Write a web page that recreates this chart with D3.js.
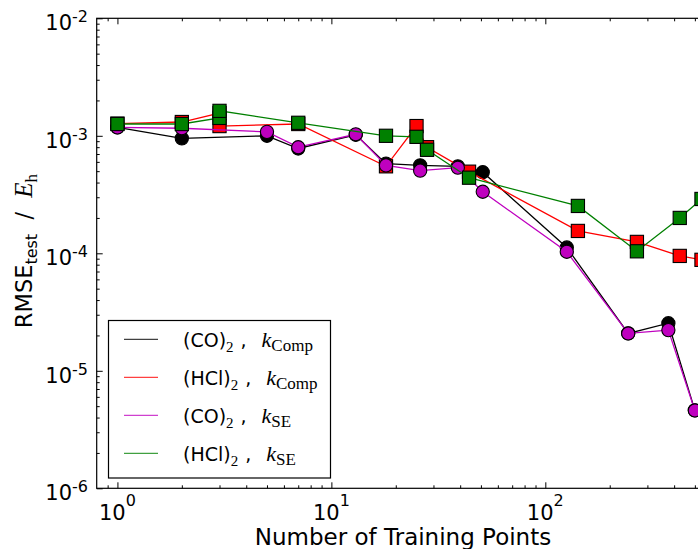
<!DOCTYPE html>
<html>
<head>
<meta charset="utf-8">
<script src="https://cdn.jsdelivr.net/npm/d3@7"></script>
<style>
body { margin: 0; background: #fff; }
svg { display: block; }
text { white-space: pre; }
</style>
</head>
<body>
<svg id="chart"></svg>
<script>
// training set size vs test RMSE (hartree), one pair of arrays per series
const coCompX = [1, 2, 5, 7, 13, 18, 26, 39, 51, 126, 244, 376, 500];
const coCompY = [1.18e-3, 9.5e-4, 1.0e-3, 7.8e-4, 1.02e-3, 5.8e-4, 5.6e-4, 5.5e-4, 4.9e-4, 1.12e-4, 2.08e-5, 2.54e-5, 4.6e-6];
const hclCompX = [1, 2, 3, 3, 7, 18, 25, 28, 44, 142, 268, 425, 537];
const hclCompY = [1.27e-3, 1.31e-3, 1.56e-3, 1.21e-3, 1.26e-3, 5.5e-4, 1.21e-3, 8.0e-4, 4.95e-4, 1.55e-4, 1.25e-4, 9.5e-5, 8.8e-5];
const coSEX = [1, 2, 5, 7, 13, 18, 26, 39, 51, 126, 244, 376, 500];
const coSEY = [1.18e-3, 1.16e-3, 1.08e-3, 8.0e-4, 1.03e-3, 5.6e-4, 5.05e-4, 5.35e-4, 3.34e-4, 1.03e-4, 2.08e-5, 2.22e-5, 4.6e-6];
const hclSEX = [1, 2, 3, 3, 7, 18, 25, 28, 44, 142, 268, 425, 537];
const hclSEY = [1.26e-3, 1.26e-3, 1.42e-3, 1.63e-3, 1.29e-3, 1.0e-3, 9.8e-4, 7.6e-4, 4.4e-4, 2.53e-4, 1.04e-4, 2.0e-4, 2.9e-4];

const molecules = ["(CO)", "(HCl)", "(CO)", "(HCl)"];
const kernels = ["Comp", "Comp", "SE", "SE"];
const colors = ["#000000", "#ff0000", "#bf00bf", "#008000"];
const markers = ["circle", "square", "circle", "square"];

const xTickVals = [1, 10, 100];
const xTickExp = ["0", "1", "2"];
const yTickVals = [1e-6, 1e-5, 1e-4, 1e-3, 1e-2];
const yTickExp = ["-6", "-5", "-4", "-3", "-2"];

const xLabel = "Number of Training Points";

const width = 698, height = 549;
const sans = "'DejaVu Sans', sans-serif";
const serif = "'Liberation Serif', 'DejaVu Serif', serif";

const svg = d3.select('svg#chart')
    .attr('width', width)
    .attr('height', height);

const x = d3.scaleLog().domain([0.8, 600]).range([96.7, 711.8]);
const y = d3.scaleLog().domain([1e-6, 1e-2]).range([488.3, 18.3]);

// minor ticks: 2..9 in each decade
let xMinor = [];
let yMinor = [];
[0.1, 1, 10, 100].forEach(d => { for (let k = 2; k < 10; k++) { let v = d * k; if (v > 0.8 && v < 600) xMinor.push(v); } });
[1e-6, 1e-5, 1e-4, 1e-3].forEach(d => { for (let k = 2; k < 10; k++) yMinor.push(d * k); });

function tickAxis(axis, vals, size) {
    return axis.tickValues(vals).tickSize(size).tickSizeOuter(0).tickFormat("");
}

const gAx = svg.append('g');
gAx.append('g').attr('transform', `translate(0,${y.range()[0]})`).call(tickAxis(d3.axisBottom(x), xTickVals, -6));
gAx.append('g').attr('transform', `translate(0,${y.range()[0]})`).call(tickAxis(d3.axisBottom(x), xMinor, -3));
gAx.append('g').attr('transform', `translate(0,${y.range()[1]})`).call(tickAxis(d3.axisTop(x), xTickVals, -6));
gAx.append('g').attr('transform', `translate(0,${y.range()[1]})`).call(tickAxis(d3.axisTop(x), xMinor, -3));
gAx.append('g').attr('transform', `translate(${x.range()[0]},0)`).call(tickAxis(d3.axisLeft(y), yTickVals, -6));
gAx.append('g').attr('transform', `translate(${x.range()[0]},0)`).call(tickAxis(d3.axisLeft(y), yMinor, -3));
gAx.selectAll('.domain').remove();
gAx.selectAll('line').attr('stroke', '#000').attr('stroke-width', 1);

// frame
svg.append('rect')
    .attr('x', x.range()[0]).attr('y', y.range()[1])
    .attr('width', x.range()[1] - x.range()[0])
    .attr('height', y.range()[0] - y.range()[1])
    .attr('fill', 'none').attr('stroke', '#000').attr('stroke-width', 1.2);

// tick labels as 10^n
xTickVals.forEach((v, i) => {
    let t = svg.append('text')
        .attr('x', x(v)).attr('y', y.range()[0] + 31.7)
        .attr('text-anchor', 'middle')
        .attr('font-family', sans).attr('font-size', 21);
    t.append('tspan').text("10");
    t.append('tspan').attr('dy', -14).attr('font-size', 16).text(xTickExp[i]);
});
yTickVals.forEach((v, i) => {
    let t = svg.append('text')
        .attr('x', 88).attr('y', y(v) + 12)
        .attr('text-anchor', 'end')
        .attr('font-family', sans).attr('font-size', 21);
    t.append('tspan').text("10");
    t.append('tspan').attr('dy', -8).attr('font-size', 16).text(yTickExp[i]);
});

// axis titles
svg.append('text')
    .attr('x', 403).attr('y', 545)
    .attr('text-anchor', 'middle')
    .attr('font-family', sans).attr('font-size', 23)
    .text(xLabel);

let yl = svg.append('text')
    .attr('transform', 'translate(32,251) rotate(-90)')
    .attr('text-anchor', 'middle')
    .attr('font-family', sans).attr('font-size', 22.5);
yl.append('tspan').text("RMSE");
yl.append('tspan').attr('dy', 5).attr('font-size', 16).text("test");
yl.append('tspan').attr('dy', -5).text("  /  ");
yl.append('tspan').attr('font-family', serif).attr('font-style', 'italic').attr('font-size', 25).text("E");
yl.append('tspan').attr('dy', 5).attr('font-family', serif).attr('font-size', 17).text("h");

// series
const seriesX = [coCompX, hclCompX, coSEX, hclSEX];
const seriesY = [coCompY, hclCompY, coSEY, hclSEY];

const line = d3.line().x(d => x(d[0])).y(d => y(d[1]));

seriesX.forEach((xs, s) => {
    let pts = xs.map((v, i) => [v, seriesY[s][i]]);
    let g = svg.append('g');
    g.append('path')
        .attr('d', line(pts))
        .attr('fill', 'none')
        .attr('stroke', colors[s])
        .attr('stroke-width', 1.3);
    if (markers[s] == "circle") {
        g.selectAll('circle').data(pts).enter().append('circle')
            .attr('cx', d => x(d[0])).attr('cy', d => y(d[1]))
            .attr('r', 6.6)
            .attr('fill', colors[s]).attr('stroke', '#000').attr('stroke-width', 1.1);
    } else {
        g.selectAll('rect').data(pts).enter().append('rect')
            .attr('x', d => x(d[0]) - 6.6).attr('y', d => y(d[1]) - 6.6)
            .attr('width', 13.2).attr('height', 13.2)
            .attr('fill', colors[s]).attr('stroke', '#000').attr('stroke-width', 1.1);
    }
});

// legend
const lg = svg.append('g');
lg.append('rect')
    .attr('x', 108.5).attr('y', 320.5)
    .attr('width', 222).attr('height', 157.5)
    .attr('fill', '#fff').attr('stroke', '#000').attr('stroke-width', 1.2);

molecules.forEach((m, i) => {
    let ly = 339.3 + i * 38;
    lg.append('line')
        .attr('x1', 124).attr('x2', 158)
        .attr('y1', ly).attr('y2', ly)
        .attr('stroke', colors[i]).attr('stroke-opacity', 0.75).attr('stroke-width', 1.3);
    let t = lg.append('text')
        .attr('x', 183).attr('y', ly + 8)
        .attr('font-family', sans).attr('font-size', 19);
    t.append('tspan').text(m);
    t.append('tspan').attr('dy', 5).attr('font-family', serif).attr('font-size', 15).text("2");
    t.append('tspan').attr('dy', -5).attr('dx', 7).text(",");
    t.append('tspan').attr('dx', 15).attr('font-family', serif).attr('font-style', 'italic').attr('font-size', 22).text("k");
    t.append('tspan').attr('dy', 4).attr('font-family', serif).attr('font-size', 17).text(kernels[i]);
});
</script>
</body>
</html>
